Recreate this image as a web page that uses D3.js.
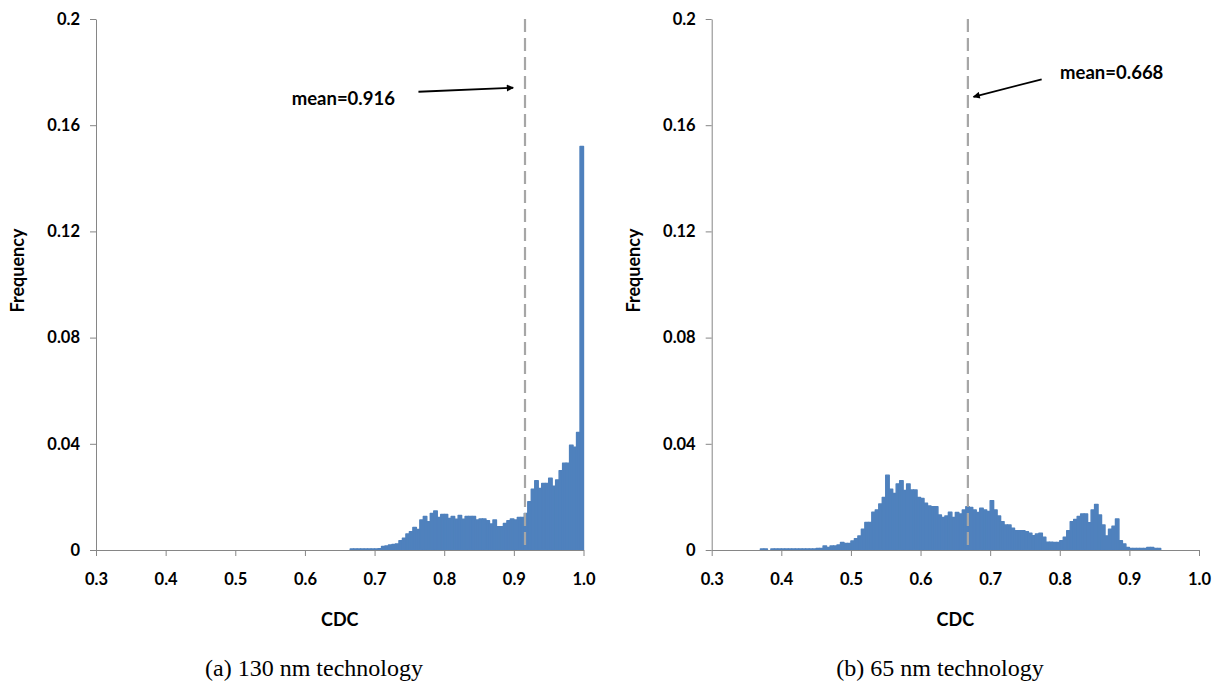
<!DOCTYPE html>
<html><head><meta charset="utf-8">
<script src="https://cdn.jsdelivr.net/npm/d3@7"></script>
<style>
body{margin:0;background:#fff;}
svg{display:block;}
</style></head>
<body>
<svg id="chart" width="1222" height="683"></svg>
<script>
// ---------- data ----------
const binWidth = 0.005;
const firstBinA = 0.665;
const freqA = [
 0.0004,0.0004,0.0004,0.0004,0.0004,0.0004,0.0004,0.0004,0.0005,0.0013,
 0.0015,0.0019,0.0021,0.0023,0.0035,0.0044,0.0060,0.0069,0.0085,0.0077,
 0.0113,0.0126,0.0107,0.0138,0.0147,0.0123,0.0134,0.0134,0.0119,0.0126,
 0.0116,0.0130,0.0116,0.0126,0.0126,0.0126,0.0113,0.0117,0.0117,0.0110,
 0.0098,0.0113,0.0088,0.0088,0.0100,0.0110,0.0117,0.0113,0.0123,0.0123,
 0.0138,0.0182,0.0229,0.0261,0.0232,0.0251,0.0251,0.0270,0.0240,0.0264,
 0.0299,0.0327,0.0327,0.0395,0.0387,0.0443,0.1520
];
const firstBinB = 0.370;
const freqB = [
 0.0004,0.0004,0,0.0004,0.0004,0.0004,0.0004,0.0004,0.0004,0.0004,
 0.0004,0.0004,0.0004,0.0004,0.0004,0.0004,0.0006,0.0006,0.0015,0.0010,
 0.0015,0.0015,0.0019,0.0028,0.0025,0.0025,0.0034,0.0043,0.0053,0.0078,
 0.0104,0.0104,0.0142,0.0151,0.0173,0.0198,0.0282,0.0229,0.0213,0.0249,
 0.0261,0.0224,0.0249,0.0226,0.0226,0.0198,0.0194,0.0176,0.0166,0.0163,
 0.0163,0.0132,0.0123,0.0128,0.0142,0.0123,0.0141,0.0136,0.0151,0.0163,
 0.0160,0.0151,0.0141,0.0157,0.0151,0.0145,0.0186,0.0151,0.0128,0.0107,
 0.0094,0.0094,0.0082,0.0073,0.0073,0.0073,0.0069,0.0063,0.0054,0.0060,
 0.0063,0.0048,0.0029,0.0029,0.0028,0.0028,0.0035,0.0048,0.0073,0.0107,
 0.0115,0.0126,0.0136,0.0136,0.0103,0.0151,0.0172,0.0132,0.0094,0.0053,
 0.0078,0.0090,0.0117,0.0035,0.0023,0.0010,0.0006,0.0006,0.0006,0.0006,
 0.0006,0.0010,0.0010,0.0006,0.0006
];
const meanA = 0.916;
const meanB = 0.668;
const xTicks = [0.3,0.4,0.5,0.6,0.7,0.8,0.9,1.0];
const yTicks = [0,0.04,0.08,0.12,0.16,0.2];
const yTickLabels = ["0","0.04","0.08","0.12","0.16","0.2"];
const xLabel = "CDC";
const yLabel = "Frequency";
const captions = ["(a) 130 nm technology","(b) 65 nm technology"];
const meanLabels = ["mean=0.916","mean=0.668"];
// annotation anchors in data units: [textX, textY, arrowFromX, arrowFromY, arrowToX, arrowToY]
const annotA = [0.581,0.1676, 0.763,0.1726, 0.899,0.1741];
const annotB = [0.8005,0.1774, 0.774,0.1773, 0.676,0.1707];

// ---------- drawing ----------
const svg = d3.select("#chart");
const BAR = "#4f81bd", AXIS = "#868686", DASH = "#a6a6a6";
const tickFont = "Lato, 'Open Sans', sans-serif";

svg.append("defs").append("marker")
  .attr("id","arrow").attr("viewBox","0 0 10 10").attr("refX",9).attr("refY",5)
  .attr("markerWidth",8).attr("markerHeight",7).attr("markerUnits","userSpaceOnUse")
  .attr("orient","auto")
  .append("path").attr("d","M0,0 L10,5 L0,10 z").attr("fill","#000");

function panel(cfg){
  const x = d3.scaleLinear().domain([0.3,1.0]).range([cfg.x0,cfg.x1]);
  const y = d3.scaleLinear().domain([0,0.2]).range([550,19]);
  const g = svg.append("g");

  // bars
  const bins = cfg.freq.map((v,i)=>({s: +(cfg.first + i*binWidth).toFixed(4), v}));
  g.append("g").selectAll("rect").data(bins.filter(d=>d.v>0)).join("rect")
    .attr("x",d=>x(d.s)).attr("width",d=>x(d.s+binWidth)-x(d.s))
    .attr("y",d=>y(d.v)).attr("height",d=>y(0)-y(d.v))
    .attr("fill",BAR).attr("stroke",BAR).attr("stroke-width",1.4)
    .attr("stroke-linejoin","round");

  // mean line
  g.append("line").attr("x1",x(cfg.mean)).attr("x2",x(cfg.mean))
    .attr("y1",y(0.2)).attr("y2",y(0))
    .attr("stroke",DASH).attr("stroke-width",2.2).attr("stroke-dasharray","13,6");

  // axes
  const ax = g.append("g").attr("transform",`translate(0,${y(0)})`)
    .call(d3.axisBottom(x).tickValues(xTicks).tickFormat(d3.format(".1f")).tickSize(6).tickSizeOuter(0).tickPadding(17));
  const ay = g.append("g").attr("transform",`translate(${x(0.3)},0)`)
    .call(d3.axisLeft(y).tickValues(yTicks).tickFormat((d,i)=>yTickLabels[i]).tickSize(6).tickSizeOuter(0).tickPadding(10));
  [ax,ay].forEach(a=>{
    a.selectAll("path,line").attr("stroke",AXIS).attr("stroke-width",1);
    a.selectAll("text").attr("font-family",tickFont).attr("font-weight","bold")
      .attr("font-size",16.5).attr("fill","#000");
  });

  // axis titles
  g.append("text").attr("x",(cfg.x0+cfg.x1)/2).attr("y",626).attr("text-anchor","middle")
    .attr("font-family",tickFont).attr("font-weight","bold").attr("font-size",18).text(xLabel);
  g.append("text").attr("transform",`translate(${cfg.x0-72},${(y(0)+y(0.2))/2-14}) rotate(-90)`)
    .attr("text-anchor","middle")
    .attr("font-family",tickFont).attr("font-weight","bold").attr("font-size",18).text(yLabel);

  // caption
  g.append("text").attr("x",cfg.capX).attr("y",676).attr("text-anchor","middle")
    .attr("font-family","'Liberation Serif','Times New Roman',serif").attr("font-size",24).text(cfg.caption);

  // annotation
  const a = cfg.annot;
  g.append("text").attr("x",x(a[0])).attr("y",y(a[1]))
    .attr("font-family",tickFont).attr("font-weight","bold").attr("font-size",18.5).text(cfg.meanLabel);
  g.append("line").attr("x1",x(a[2])).attr("y1",y(a[3])).attr("x2",x(a[4])).attr("y2",y(a[5]))
    .attr("stroke","#000").attr("stroke-width",1.8).attr("marker-end","url(#arrow)");
}

panel({x0:96, x1:583.5, freq:freqA, first:firstBinA, mean:meanA, annot:annotA,
       meanLabel:meanLabels[0], caption:captions[0], capX:314});
panel({x0:711.7, x1:1199, freq:freqB, first:firstBinB, mean:meanB, annot:annotB,
       meanLabel:meanLabels[1], caption:captions[1], capX:940});
</script>
</body></html>
